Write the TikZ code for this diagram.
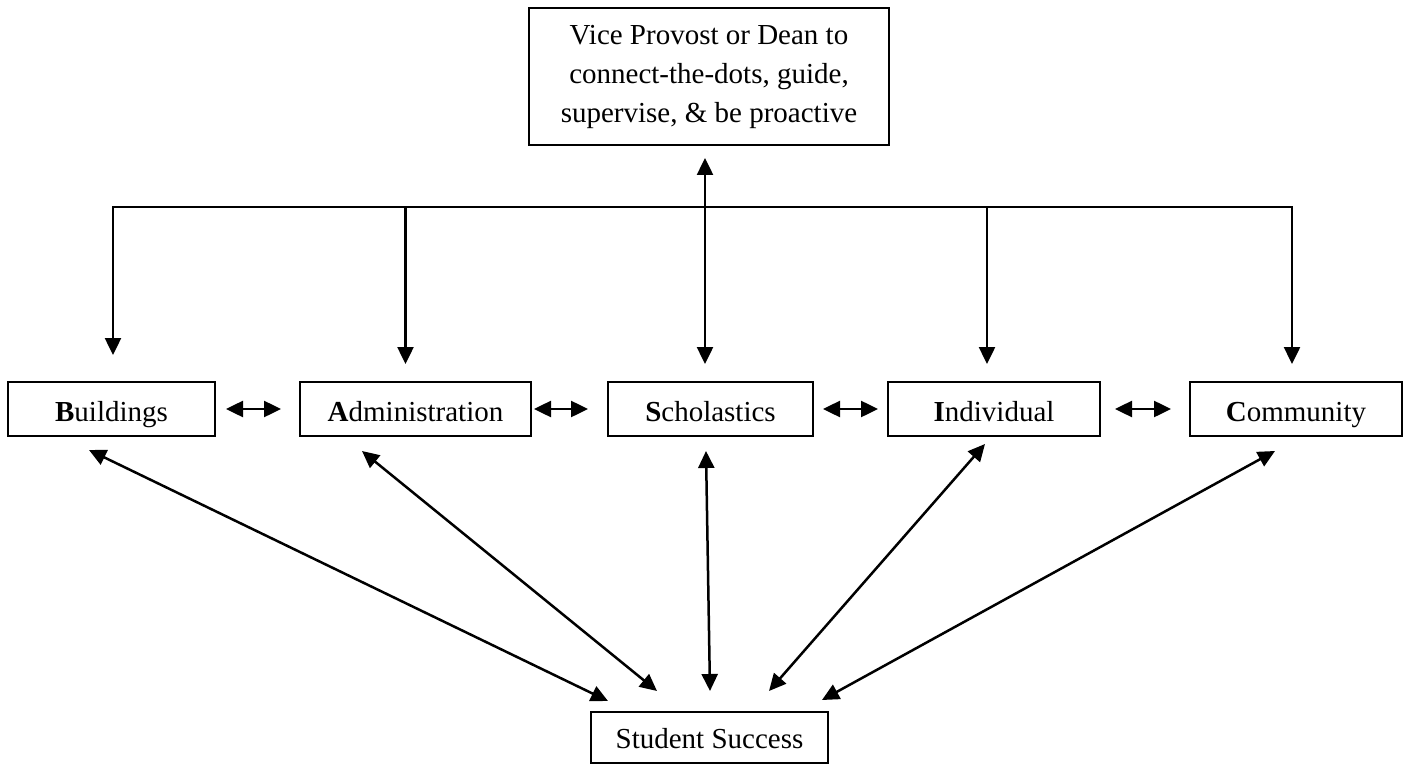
\documentclass[tikz,border=0pt]{standalone}
\usepackage{fontspec}
\setmainfont{Liberation Serif}
\usetikzlibrary{arrows.meta,calc}
\begin{document}
\begin{tikzpicture}[x=0.5pt,y=-0.5pt,
  box/.style={draw,line width=1pt,inner sep=0pt,
    align=center,font=\fontsize{14.5pt}{19.5pt}\selectfont},
  rowbox/.style={box,text height=12pt,text depth=0pt},
  ln/.style={line width=1.25pt},
  arr/.style={ln,-{Triangle[length=8.5pt,width=8pt]}},
  dbl/.style={ln,{Triangle[length=8.5pt,width=8pt]}-{Triangle[length=8.5pt,width=8pt]}}]
\useasboundingbox (0,0) rectangle (1409,765);

% nodes
\node[box,minimum width=180pt,minimum height=68.5pt] (top) at (709,76.5)
  {Vice Provost or Dean to\\connect-the-dots, guide,\\supervise, \& be proactive};
\node[rowbox,minimum width=103.5pt,minimum height=27pt] (B) at (111.5,409) {\textbf{B}uildings};
\node[rowbox,minimum width=115.5pt,minimum height=27pt] (A) at (415.5,409) {\textbf{A}dministration};
\node[rowbox,minimum width=102.5pt,minimum height=27pt] (S) at (710.5,409) {\textbf{S}cholastics};
\node[rowbox,minimum width=106pt,minimum height=27pt] (I) at (994,409) {\textbf{I}ndividual};
\node[rowbox,minimum width=106pt,minimum height=27pt] (C) at (1296,409) {\textbf{C}ommunity};
\node[rowbox,text height=10.5pt,minimum width=118.5pt,minimum height=25.5pt] (SS) at (709.5,737.5) {Student Success};

% junctions on the distribution line
\coordinate (jB) at (113,207);
\coordinate (jA) at (405.5,207);
\coordinate (jS) at (705,207);
\coordinate (jI) at (987,207);
\coordinate (jC) at (1292,207);

% distribution line and down arrows
\draw[arr,shorten >=13pt] (jS) -- (jB) -- (jB |- B.north);
\draw[arr,shorten >=8.5pt] (jS) -- (jC) -- (jC |- C.north);
\draw[arr,shorten >=8.5pt] (jA) -- (jA |- A.north);
\draw[arr,shorten >=8.5pt] (jI) -- (jI |- I.north);
\draw[dbl,shorten <=6pt,shorten >=8.5pt] (top.south -| jS) -- (S.north -| jS);

% arrows between row boxes
\draw[dbl,shorten <=5pt,shorten >=9pt] (B.east) -- (A.west);
\draw[dbl,shorten <=1pt,shorten >=9.5pt] (A.east) -- (S.west);
\draw[dbl,shorten <=4.5pt,shorten >=4.5pt] (S.east) -- (I.west);
\draw[dbl,shorten <=7pt,shorten >=9pt] (I.east) -- (C.west);

% arrows to Student Success
\draw[dbl] ($(B.south)+(-22.5,13)$) -- ($(SS.north)+(-101.5,-10)$);
\draw[dbl] ($(A.south)+(-53.5,14)$) -- ($(SS.north)+(-52.5,-20)$);
\draw[dbl] ($(S.south)+(-4.5,14)$) -- ($(SS.north)+(0.5,-20)$);
\draw[dbl] ($(I.south)+(-9,7)$) -- ($(SS.north)+(59.5,-20)$);
\draw[dbl] ($(C.south)+(-21,14)$) -- ($(SS.north)+(112.5,-11)$);
\end{tikzpicture}
\end{document}
